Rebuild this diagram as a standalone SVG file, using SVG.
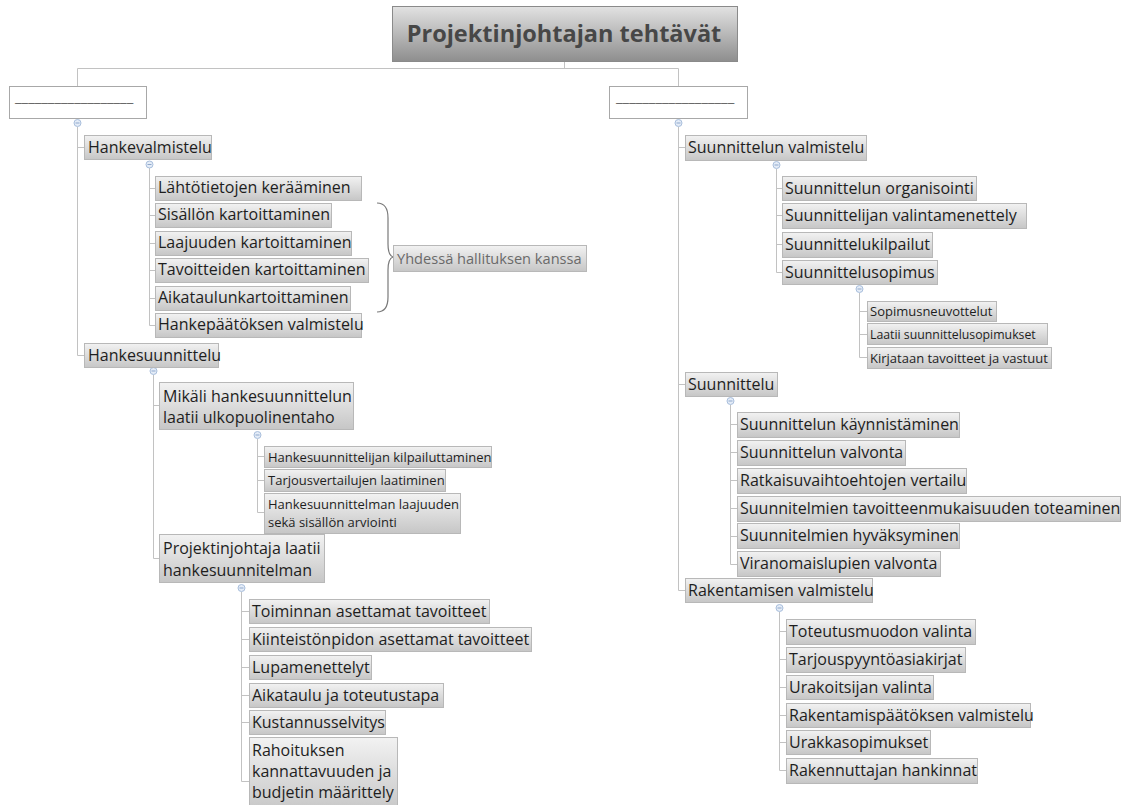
<svg xmlns="http://www.w3.org/2000/svg" width="1124" height="805" viewBox="0 0 1124 805">
<defs>
<linearGradient id="g" x1="0" y1="0" x2="0" y2="1"><stop offset="0" stop-color="#f2f2f2"/><stop offset="1" stop-color="#c6c6c6"/></linearGradient>
<linearGradient id="gt" x1="0" y1="0" x2="0" y2="1"><stop offset="0" stop-color="#e2e2e2"/><stop offset="1" stop-color="#8e8e8e"/></linearGradient>
</defs>
<style>
.n{fill:url(#g);stroke:#b8b8b8;stroke-width:1}
.t{font-family:"Open Sans","Noto Sans",sans-serif;font-size:16px;fill:#1e1e1e}
.s{font-family:"Open Sans","Noto Sans",sans-serif;font-size:13px;fill:#1e1e1e}
.c{stroke:#c2c2c2;stroke-width:1;fill:none}
.k{fill:#e4ecf7;stroke:#a8bedc;stroke-width:1}
.km{stroke:#8fa8cc;stroke-width:1}
.br{stroke:#7a7a7a;stroke-width:1.2;fill:none}
</style>
<rect width="1124" height="805" fill="#fff"/>
<g id="connectors">
<path class="c" d="M564.5 62V68.5M77.5 68.5H678.5M77.5 68.5V87M678.5 68.5V87"/>
<path class="c" d="M77.5 127V355.5M77.5 147.5H84M77.5 355.5H85"/>
<path class="c" d="M149.5 168V325.5M149.5 188.5H155M149.5 215.5H155M149.5 243.5H155M149.5 270.5H155M149.5 298.5H155M149.5 325.5H155"/>
<path class="c" d="M153.5 375V558.5M153.5 405.5H160M153.5 558.5H160"/>
<path class="c" d="M257.5 439V512.5M257.5 456.5H264M257.5 480.5H264M257.5 512.5H264"/>
<path class="c" d="M241.5 592V781.5M241.5 611.5H249M241.5 639.5H249M241.5 667.5H249M241.5 695.5H249M241.5 722.5H249M241.5 781.5H249"/>
<path class="c" d="M678.5 127V590.5M678.5 147.5H685M678.5 384.5H685M678.5 590.5H685"/>
<path class="c" d="M776.5 169V272.5M776.5 188.5H782M776.5 215.5H782M776.5 244.5H782M776.5 272.5H782"/>
<path class="c" d="M859.5 293V357.5M859.5 311.5H867M859.5 334.5H867M859.5 357.5H867"/>
<path class="c" d="M730.5 405V564.5M730.5 424.5H737M730.5 452.5H737M730.5 480.5H737M730.5 508.5H737M730.5 536.5H737M730.5 564.5H737"/>
<path class="c" d="M779.5 612V770.5M779.5 631.5H786M779.5 659.5H786M779.5 687.5H786M779.5 715.5H786M779.5 742.5H786M779.5 770.5H786"/>
<path class="br" d="M377 203C385 203 388 208 388 218V244C388 252 390 256 393 257C390 258 388 262 388 270V297C388 307 385 312 377 312"/>
</g>
<g id="collapse">
<circle class="k" cx="77.5" cy="123" r="3.5"/><path class="km" d="M75.5 123H79.5"/>
<circle class="k" cx="149.5" cy="164.5" r="3.5"/><path class="km" d="M147.5 164.5H151.5"/>
<circle class="k" cx="153.5" cy="371" r="3.5"/><path class="km" d="M151.5 371H155.5"/>
<circle class="k" cx="257.5" cy="435" r="3.5"/><path class="km" d="M255.5 435H259.5"/>
<circle class="k" cx="241.5" cy="588" r="3.5"/><path class="km" d="M239.5 588H243.5"/>
<circle class="k" cx="678.5" cy="123" r="3.5"/><path class="km" d="M676.5 123H680.5"/>
<circle class="k" cx="776.5" cy="165" r="3.5"/><path class="km" d="M774.5 165H778.5"/>
<circle class="k" cx="859.5" cy="289" r="3.5"/><path class="km" d="M857.5 289H861.5"/>
<circle class="k" cx="730.5" cy="401" r="3.5"/><path class="km" d="M728.5 401H732.5"/>
<circle class="k" cx="779.5" cy="608" r="3.5"/><path class="km" d="M777.5 608H781.5"/>
</g>
<g id="title">
<rect x="392.5" y="6.5" width="345" height="55" fill="url(#gt)" stroke="#8a8a8a"/>
<text x="564" y="42" text-anchor="middle" style="font-family:'Open Sans','Noto Sans',sans-serif;font-size:23.5px;font-weight:bold;fill:#474747">Projektinjohtajan tehtävät</text>
</g>
<g id="left-root"><rect x="9.5" y="86.5" width="137" height="32" fill="#fff" stroke="#a8a8a8"/><text x="15" y="102" style="font-family:'Open Sans',sans-serif;font-size:15px;fill:#666">__________________</text></g>
<g id="right-root"><rect x="609.5" y="86.5" width="138" height="32" fill="#fff" stroke="#a8a8a8"/><text x="616" y="102" style="font-family:'Open Sans',sans-serif;font-size:15px;fill:#666">__________________</text></g>

<g id="n-hankevalmistelu"><rect class="n" x="84.5" y="135.5" width="127" height="24"/><text class="t" x="88" y="153">Hankevalmistelu</text></g>
<g id="n-l1"><rect class="n" x="155.5" y="176.5" width="206" height="24"/><text class="t" x="158" y="193">Lähtötietojen kerääminen</text></g>
<g id="n-l2"><rect class="n" x="155.5" y="203.5" width="176" height="24"/><text class="t" x="158" y="220">Sisällön kartoittaminen</text></g>
<g id="n-l3"><rect class="n" x="155.5" y="231.5" width="196" height="24"/><text class="t" x="158" y="248">Laajuuden kartoittaminen</text></g>
<g id="n-l4"><rect class="n" x="155.5" y="258.5" width="213" height="24"/><text class="t" x="158" y="275">Tavoitteiden kartoittaminen</text></g>
<g id="n-l5"><rect class="n" x="155.5" y="286.5" width="195" height="24"/><text class="t" x="158" y="303">Aikataulunkartoittaminen</text></g>
<g id="n-l6"><rect class="n" x="155.5" y="313.5" width="206" height="24"/><text class="t" x="158" y="330">Hankepäätöksen valmistelu</text></g>
<g id="n-yhdessa"><rect class="n" x="393.5" y="245.5" width="193" height="26"/><text x="397" y="264" style="font-family:'Open Sans','Noto Sans',sans-serif;font-size:14.6px;fill:#6a6a6a">Yhdessä hallituksen kanssa</text></g>

<g id="n-hankesuunnittelu"><rect class="n" x="84.5" y="343.5" width="134" height="24"/><text class="t" x="88" y="361">Hankesuunnittelu</text></g>
<g id="n-mikali"><rect class="n" x="159.5" y="382.5" width="194" height="47"/><text class="t" x="163" y="402">Mikäli hankesuunnittelun</text><text class="t" x="163" y="423">laatii ulkopuolinentaho</text></g>
<g id="n-m1"><rect class="n" x="264.5" y="446.5" width="227" height="21"/><text class="s" x="268" y="462">Hankesuunnittelijan kilpailuttaminen</text></g>
<g id="n-m2"><rect class="n" x="264.5" y="469.5" width="181" height="22"/><text class="s" x="268" y="485">Tarjousvertailujen laatiminen</text></g>
<g id="n-m3"><rect class="n" x="264.5" y="493.5" width="196" height="40"/><text class="s" x="268" y="509">Hankesuunnittelman laajuuden</text><text class="s" x="268" y="527">sekä sisällön arviointi</text></g>
<g id="n-pj"><rect class="n" x="159.5" y="534.5" width="165" height="48"/><text class="t" x="163" y="554">Projektinjohtaja laatii</text><text class="t" x="163" y="576">hankesuunnitelman</text></g>
<g id="n-p1"><rect class="n" x="249.5" y="599.5" width="240" height="24"/><text class="t" x="252" y="617">Toiminnan asettamat tavoitteet</text></g>
<g id="n-p2"><rect class="n" x="249.5" y="627.5" width="282" height="24"/><text class="t" x="252" y="645">Kiinteistönpidon asettamat tavoitteet</text></g>
<g id="n-p3"><rect class="n" x="249.5" y="655.5" width="122" height="24"/><text class="t" x="252" y="673">Lupamenettelyt</text></g>
<g id="n-p4"><rect class="n" x="249.5" y="683.5" width="194" height="24"/><text class="t" x="252" y="701">Aikataulu ja toteutustapa</text></g>
<g id="n-p5"><rect class="n" x="249.5" y="710.5" width="136" height="24"/><text class="t" x="252" y="728">Kustannusselvitys</text></g>
<g id="n-p6"><rect class="n" x="249.5" y="737.5" width="148" height="75"/><text class="t" x="252" y="756">Rahoituksen</text><text class="t" x="252" y="777">kannattavuuden ja</text><text class="t" x="252" y="798">budjetin määrittely</text></g>

<g id="n-sv"><rect class="n" x="685.5" y="135.5" width="181" height="25"/><text class="t" x="688" y="153">Suunnittelun valmistelu</text></g>
<g id="n-sv1"><rect class="n" x="782.5" y="176.5" width="194" height="24"/><text class="t" x="785" y="194">Suunnittelun organisointi</text></g>
<g id="n-sv2"><rect class="n" x="782.5" y="203.5" width="244" height="25"/><text class="t" x="785" y="221">Suunnittelijan valintamenettely</text></g>
<g id="n-sv3"><rect class="n" x="782.5" y="232.5" width="150" height="25"/><text class="t" x="785" y="250">Suunnittelukilpailut</text></g>
<g id="n-sv4"><rect class="n" x="782.5" y="260.5" width="155" height="24"/><text class="t" x="785" y="278">Suunnittelusopimus</text></g>
<g id="n-ss1"><rect class="n" x="867.5" y="301.5" width="129" height="20"/><text class="s" x="870" y="316">Sopimusneuvottelut</text></g>
<g id="n-ss2"><rect class="n" x="867.5" y="323.5" width="180" height="21"/><text class="s" x="870" y="339" style="font-size:12.3px">Laatii suunnittelusopimukset</text></g>
<g id="n-ss3"><rect class="n" x="867.5" y="347.5" width="184" height="21"/><text class="s" x="870" y="363">Kirjataan tavoitteet ja vastuut</text></g>

<g id="n-su"><rect class="n" x="685.5" y="372.5" width="92" height="24"/><text class="t" x="688" y="390">Suunnittelu</text></g>
<g id="n-su1"><rect class="n" x="737.5" y="412.5" width="222" height="25"/><text class="t" x="740" y="430">Suunnittelun käynnistäminen</text></g>
<g id="n-su2"><rect class="n" x="737.5" y="440.5" width="168" height="25"/><text class="t" x="740" y="458">Suunnittelun valvonta</text></g>
<g id="n-su3"><rect class="n" x="737.5" y="468.5" width="229" height="25"/><text class="t" x="740" y="486">Ratkaisuvaihtoehtojen vertailu</text></g>
<g id="n-su4"><rect class="n" x="737.5" y="496.5" width="383" height="25"/><text class="t" x="740" y="514">Suunnitelmien tavoitteenmukaisuuden toteaminen</text></g>
<g id="n-su5"><rect class="n" x="737.5" y="523.5" width="222" height="25"/><text class="t" x="740" y="541">Suunnitelmien hyväksyminen</text></g>
<g id="n-su6"><rect class="n" x="737.5" y="551.5" width="203" height="25"/><text class="t" x="740" y="569">Viranomaislupien valvonta</text></g>

<g id="n-rv"><rect class="n" x="685.5" y="578.5" width="187" height="24"/><text class="t" x="688" y="596">Rakentamisen valmistelu</text></g>
<g id="n-rv1"><rect class="n" x="786.5" y="619.5" width="189" height="25"/><text class="t" x="789" y="637">Toteutusmuodon valinta</text></g>
<g id="n-rv2"><rect class="n" x="786.5" y="647.5" width="179" height="25"/><text class="t" x="789" y="665">Tarjouspyyntöasiakirjat</text></g>
<g id="n-rv3"><rect class="n" x="786.5" y="675.5" width="147" height="24"/><text class="t" x="789" y="693">Urakoitsijan valinta</text></g>
<g id="n-rv4"><rect class="n" x="786.5" y="703.5" width="244" height="24"/><text class="t" x="789" y="721">Rakentamispäätöksen valmistelu</text></g>
<g id="n-rv5"><rect class="n" x="786.5" y="730.5" width="144" height="24"/><text class="t" x="789" y="748">Urakkasopimukset</text></g>
<g id="n-rv6"><rect class="n" x="786.5" y="758.5" width="191" height="25"/><text class="t" x="789" y="776">Rakennuttajan hankinnat</text></g>
</svg>
